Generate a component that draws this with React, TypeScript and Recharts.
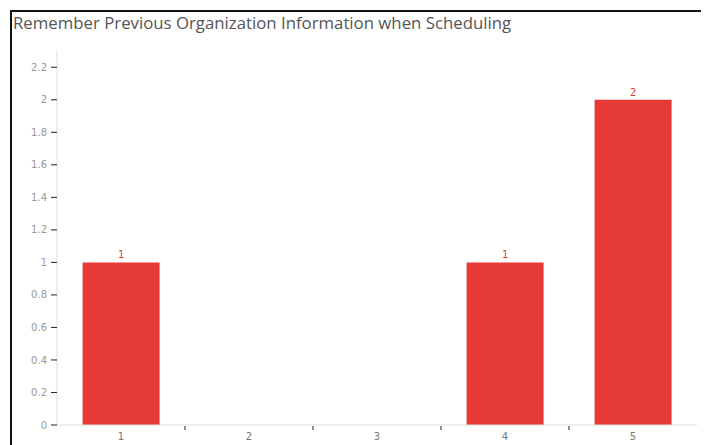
import { BarChart, Bar, XAxis, YAxis, LabelList } from "recharts";

const categories = ["1", "2", "3", "4", "5"];
const counts = [1, 0, 0, 1, 2];
const yTicks = [0, 0.2, 0.4, 0.6, 0.8, 1, 1.2, 1.4, 1.6, 1.8, 2, 2.2];

const data = categories.map((name, i) => ({ name, value: counts[i] }));

const CHART_W = 697;
const CHART_H = 433;
const MARGIN = { top: 39, right: 12, left: 0, bottom: 0 };
const Y_AXIS_W = 45;
const BAND = (CHART_W - MARGIN.left - MARGIN.right - Y_AXIS_W) / categories.length;

const RED = "#e53935";
const TICK_FONT = "'DejaVu Sans', sans-serif";

const XTick = (props: any) => {
  const { x, y, payload, index } = props;
  return (
    <g>
      {index > 0 && (
        <line x1={x - BAND / 2} x2={x - BAND / 2} y1={y - 7} y2={y - 3} stroke="#222" strokeWidth={1} />
      )}
      <text x={x} y={y} dy="0.71em" textAnchor="middle" fill="#777" fontSize={10} fontFamily={TICK_FONT}>
        {payload.value}
      </text>
    </g>
  );
};

const App = () => {
  return (
    <div
      style={{
        marginLeft: 2,
        marginTop: 2,
        width: 697,
        height: 433,
        borderLeft: "2px solid #111",
        borderTop: "2px solid #111",
        position: "relative",
        overflow: "hidden",
      }}
    >
      <div
        style={{
          position: "absolute",
          left: 1,
          top: -1,
          fontFamily: "'Open Sans', sans-serif",
          fontSize: 16.8,
          color: "#555",
          whiteSpace: "nowrap",
        }}
      >
        Remember Previous Organization Information when Scheduling
      </div>
      <div style={{ position: "absolute", left: 0, top: 0 }}>
        <BarChart width={CHART_W} height={CHART_H} data={data} margin={MARGIN} barCategoryGap="20%">
          <XAxis
            dataKey="name"
            height={20}
            axisLine={{ stroke: "#ddd" }}
            tickLine={false}
            tick={<XTick />}
            interval={0}
          />
          <YAxis
            width={Y_AXIS_W}
            domain={[0, 2.3]}
            ticks={yTicks}
            allowDataOverflow
            axisLine={{ stroke: "#ddd" }}
            tickLine={{ stroke: "#222" }}
            tickSize={6}
            tickMargin={4}
            tick={{ fontSize: 10, fill: "#999", fontFamily: TICK_FONT }}
          />
          <Bar dataKey="value" fill={RED} isAnimationActive={false}>
            <LabelList
              dataKey="value"
              position="top"
              offset={4}
              fill={RED}
              fontSize={10}
              fontFamily={TICK_FONT}
              formatter={(v: any) => (v ? v : "")}
            />
          </Bar>
        </BarChart>
      </div>
    </div>
  );
};

export default App;
